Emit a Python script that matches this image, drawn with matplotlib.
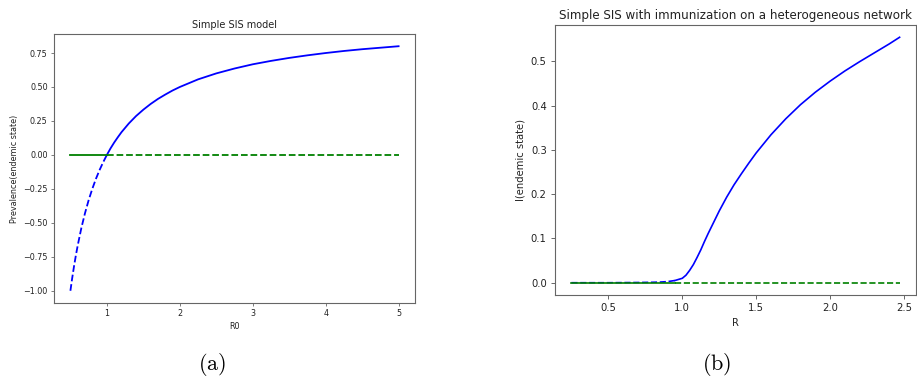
import matplotlib
matplotlib.use("Agg")
import matplotlib.pyplot as plt

plt.rcParams["mathtext.fontset"] = "cm"

# (a) simple SIS model
r0_unstable = [0.5, 0.525, 0.55, 0.575, 0.6, 0.65, 0.7, 0.75, 0.8, 0.85, 0.9, 0.95, 1.0]
prev_unstable = [-1.0, -0.905, -0.818, -0.739, -0.667, -0.538, -0.429, -0.333, -0.25,
                 -0.176, -0.111, -0.053, 0.0]
r0_stable = [1.0, 1.05, 1.1, 1.15, 1.2, 1.3, 1.4, 1.5, 1.6, 1.7, 1.8, 1.9, 2.0, 2.25, 2.5,
             2.75, 3.0, 3.25, 3.5, 3.75, 4.0, 4.25, 4.5, 4.75, 5.0]
prev_stable = [0.0, 0.048, 0.091, 0.130, 0.167, 0.231, 0.286, 0.333, 0.375, 0.412, 0.444,
               0.474, 0.5, 0.556, 0.6, 0.636, 0.667, 0.692, 0.714, 0.733, 0.75, 0.765,
               0.778, 0.789, 0.8]
r0_dfe = [0.5, 1.0, 5.0]

# (b) SIS with immunization on a heterogeneous network
r_low = [0.25, 0.5, 0.7, 0.8, 0.85, 0.9, 0.95]
i_low = [0.0, 0.0, 0.0005, 0.001, 0.0015, 0.0025, 0.005]
r_high = [0.95, 1.0, 1.025, 1.05, 1.075, 1.1, 1.125, 1.15, 1.175, 1.2, 1.25, 1.3, 1.35,
          1.4, 1.45, 1.5, 1.6, 1.7, 1.8, 1.9, 2.0, 2.1, 2.2, 2.3, 2.4, 2.47]
i_high = [0.005, 0.010, 0.017, 0.028, 0.041, 0.057, 0.074, 0.093, 0.111, 0.128, 0.162,
          0.193, 0.221, 0.246, 0.270, 0.293, 0.334, 0.370, 0.402, 0.430, 0.455, 0.478,
          0.499, 0.519, 0.539, 0.554]
r_dfe = [0.25, 0.95, 2.47]

W, H = 917, 376
fig = plt.figure(figsize=(W / 100, H / 100), dpi=100)

spine_col = "#666666"
text_col = "#222222"

# left panel
ax1 = fig.add_axes([54 / W, 1 - 303 / H, 361 / W, 269 / H])
ax1.plot(r0_unstable, prev_unstable, "b--", lw=1.3)
ax1.plot(r0_stable, prev_stable, "b-", lw=1.3)
ax1.plot(r0_dfe[:2], [0, 0], "g-", lw=1.3)
ax1.plot(r0_dfe[1:], [0, 0], "g--", lw=1.3)
ax1.set_title("Simple SIS model", fontsize=7, color=text_col, pad=4)
ax1.set_xlabel("R0", fontsize=5.8, color=text_col, labelpad=3)
ax1.set_ylabel("Prevalence(endemic state)", fontsize=5.8, color=text_col, labelpad=3)
ax1.set_xticks([1, 2, 3, 4, 5])
ax1.set_yticks([-1.0, -0.75, -0.5, -0.25, 0.0, 0.25, 0.5, 0.75])
ax1.set_yticklabels(["\u22121.00", "\u22120.75", "\u22120.50", "\u22120.25",
                     "0.00", "0.25", "0.50", "0.75"])
ax1.tick_params(labelsize=5.8, labelcolor=text_col, color=spine_col, length=2.5, width=0.6, pad=2)

# right panel
ax2 = fig.add_axes([555 / W, 1 - 295 / H, 361 / W, 270 / H])
ax2.plot(r_low, i_low, "b--", lw=1.2)
ax2.plot(r_high, i_high, "b-", lw=1.2)
ax2.plot(r_dfe[:2], [0, 0], "g-", lw=1.2)
ax2.plot(r_dfe[1:], [0, 0], "g--", lw=1.2)
ax2.set_title("Simple SIS with immunization on a heterogeneous network",
              fontsize=8.6, color=text_col, pad=4)
ax2.set_xlabel("R", fontsize=7.2, color=text_col, labelpad=3)
ax2.set_ylabel("I(endemic state)", fontsize=7.2, color=text_col, labelpad=4)
ax2.set_xticks([0.5, 1.0, 1.5, 2.0, 2.5])
ax2.set_yticks([0.0, 0.1, 0.2, 0.3, 0.4, 0.5])
ax2.tick_params(labelsize=7.2, labelcolor=text_col, color=spine_col, length=3, width=0.7, pad=3)

for ax in (ax1, ax2):
    for s in ax.spines.values():
        s.set_color(spine_col)
        s.set_linewidth(0.8)

fig.text(212 / W, 1 - 364 / H, r"$\mathrm{(a)}$", fontsize=16, ha="center", va="center")
fig.text(717 / W, 1 - 364 / H, r"$\mathrm{(b)}$", fontsize=16, ha="center", va="center")

fig.savefig("out.png", dpi=100)
